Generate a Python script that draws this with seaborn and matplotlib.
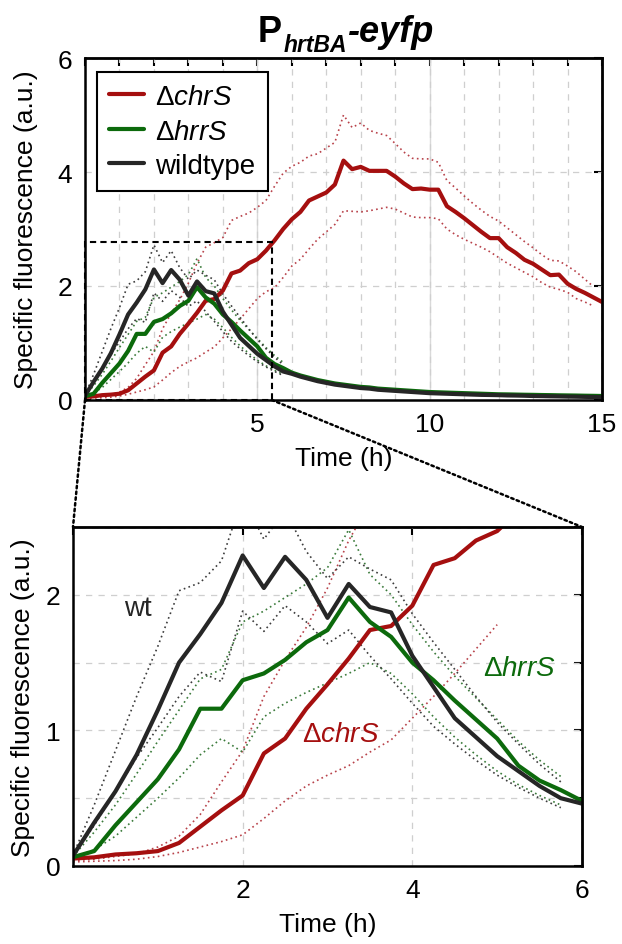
import matplotlib
matplotlib.use("Agg")
import matplotlib.pyplot as plt
from matplotlib.lines import Line2D
from matplotlib.patches import Rectangle, ConnectionPatch
import numpy as np
import pandas as pd
import seaborn as sns

sns.set_style("white")
plt.rcParams["font.family"] = ["Liberation Sans", "DejaVu Sans"]
plt.rcParams["mathtext.fontset"] = "custom"
plt.rcParams["mathtext.rm"] = "Liberation Sans"
plt.rcParams["mathtext.it"] = "Liberation Sans:italic"
plt.rcParams["mathtext.bf"] = "Liberation Sans:bold"
plt.rcParams["text.color"] = "black"
plt.rcParams["axes.labelcolor"] = "black"

# 측정 시간 (15분 간격)
time_h = np.arange(61) * 0.25

chrS = [0.055, 0.064, 0.085, 0.094, 0.11, 0.17, 0.29, 0.41, 0.52, 0.83, 0.94, 1.16,
        1.34, 1.53, 1.74, 1.77, 1.92, 2.22, 2.27, 2.40, 2.47, 2.62, 2.80, 3.00,
        3.17, 3.30, 3.50, 3.57, 3.64, 3.78, 4.20, 4.05, 4.09, 4.02, 4.02, 4.02,
        3.92, 3.80, 3.70, 3.71, 3.69, 3.69, 3.40, 3.30, 3.19, 3.07, 2.95, 2.84,
        2.84, 2.68, 2.58, 2.46, 2.39, 2.29, 2.19, 2.20, 2.04, 1.95, 1.88, 1.80, 1.72]
hrrS = [0.065, 0.11, 0.30, 0.47, 0.64, 0.86, 1.16, 1.16, 1.37, 1.42, 1.52, 1.65,
        1.74, 1.98, 1.80, 1.69, 1.50, 1.37, 1.22, 1.08, 0.94, 0.74, 0.63, 0.56,
        0.48, 0.43, 0.39, 0.35, 0.32, 0.29, 0.27, 0.25, 0.23, 0.22, 0.20, 0.19,
        0.18, 0.17, 0.16, 0.15, 0.14, 0.135, 0.13, 0.125, 0.12, 0.115, 0.11, 0.105,
        0.10, 0.098, 0.095, 0.092, 0.09, 0.087, 0.085, 0.082, 0.08, 0.078, 0.075, 0.073, 0.07]
wildtype = [0.076, 0.32, 0.55, 0.82, 1.15, 1.50, 1.71, 1.94, 2.29, 2.05, 2.28, 2.11,
            1.83, 2.08, 1.91, 1.87, 1.55, 1.32, 1.09, 0.95, 0.81, 0.70, 0.59, 0.50,
            0.46, 0.41, 0.37, 0.33, 0.30, 0.27, 0.25, 0.23, 0.21, 0.20, 0.18, 0.17,
            0.16, 0.15, 0.14, 0.13, 0.12, 0.115, 0.11, 0.105, 0.10, 0.095, 0.09, 0.088,
            0.085, 0.08, 0.078, 0.075, 0.07, 0.068, 0.065, 0.063, 0.06, 0.058, 0.055, 0.053, 0.05]

# 편차 범위 (점선)
chrS_upper = [0.04, 0.05, 0.07, 0.09, 0.14, 0.22, 0.38, 0.62, 0.85, 1.25, 1.52, 1.76,
              2.05, 2.40, 2.68, 2.76, 2.85, 3.15, 3.22, 3.28, 3.38, 3.50, 3.75, 3.98,
              4.10, 4.17, 4.28, 4.32, 4.42, 4.52, 5.00, 4.78, 4.86, 4.73, 4.68, 4.64,
              4.50, 4.35, 4.24, 4.23, 4.23, 4.17, 3.85, 3.72, 3.58, 3.45, 3.33, 3.22,
              3.14, 3.02, 2.90, 2.78, 2.67, 2.55, 2.45, 2.44, 2.35, 2.25, 2.12, 1.99]
chrS_lower = [0.03, 0.035, 0.04, 0.05, 0.07, 0.10, 0.14, 0.18, 0.23, 0.35, 0.48, 0.59,
              0.67, 0.74, 0.84, 0.93, 1.09, 1.25, 1.42, 1.60, 1.78, 1.90, 1.97, 2.15,
              2.35, 2.47, 2.65, 2.82, 2.95, 3.08, 3.32, 3.31, 3.30, 3.32, 3.35, 3.38,
              3.35, 3.28, 3.21, 3.20, 3.20, 3.18, 3.00, 2.90, 2.82, 2.75, 2.68, 2.60,
              2.50, 2.40, 2.32, 2.24, 2.16, 2.06, 1.98, 1.94, 1.89, 1.78, 1.72, 1.65]
hrrS_upper = [0.07, 0.25, 0.45, 0.68, 0.92, 1.15, 1.38, 1.45, 1.80, 1.88, 1.98, 2.08,
              2.20, 2.48, 2.15, 2.00, 1.78, 1.58, 1.40, 1.24, 1.08, 0.92, 0.78, 0.66]
hrrS_lower = [0.06, 0.12, 0.22, 0.36, 0.50, 0.65, 0.82, 0.94, 0.84, 1.10, 1.20, 1.28,
              1.35, 1.42, 1.50, 1.42, 1.27, 1.10, 0.95, 0.82, 0.70, 0.60, 0.52, 0.45]
wt_upper = [0.08, 0.45, 0.85, 1.25, 1.62, 2.03, 2.09, 2.25, 2.72, 2.41, 2.62, 2.32,
            2.12, 2.28, 2.19, 2.11, 1.86, 1.65, 1.45, 1.25, 1.06, 0.90, 0.75, 0.62]
wt_lower = [0.07, 0.30, 0.55, 0.80, 1.02, 1.25, 1.43, 1.36, 1.88, 1.73, 1.92, 1.80,
            1.64, 1.74, 1.55, 1.38, 1.20, 1.03, 0.90, 0.78, 0.67, 0.58, 0.50, 0.43]

strains = ["ΔchrS", "ΔhrrS", "wildtype"]
labels = [r"$\Delta\mathit{chrS}$", r"$\Delta\mathit{hrrS}$", "wildtype"]
colors = {"ΔchrS": "#a50f0f", "ΔhrrS": "#0c6a0c", "wildtype": "#262626"}
dot_colors = {"ΔchrS": "#b8424a", "ΔhrrS": "#3a7a3a", "wildtype": "#3c3c3c"}

df = pd.DataFrame({"time": time_h, "ΔchrS": chrS, "ΔhrrS": hrrS, "wildtype": wildtype})
df_long = df.melt(id_vars="time", var_name="strain", value_name="fluo")

bands = [
    ("ΔchrS", chrS_upper), ("ΔchrS", chrS_lower),
    ("ΔhrrS", hrrS_upper), ("ΔhrrS", hrrS_lower),
    ("wildtype", wt_upper), ("wildtype", wt_lower),
]

BOX_X, BOX_Y = 5.42, 2.78
FS = 19

fig = plt.figure(figsize=(6.22, 9.45), dpi=100)
ax_top = fig.add_axes([85 / 622, 1 - 401 / 945, 517 / 622, 342 / 945])
ax_bot = fig.add_axes([73 / 622, 1 - 867 / 945, 509 / 622, 339 / 945])


def draw_lines(ax, red_lower_end):
    for strain, vals in bands:
        t = time_h[: len(vals)]
        v = np.array(vals)
        if vals is chrS_lower:
            keep = t <= red_lower_end
            t, v = t[keep], v[keep]
        sns.lineplot(x=t, y=v, color=dot_colors[strain], lw=1.2,
                     linestyle=(0, (1, 2)), ax=ax, legend=False)
    sns.lineplot(data=df_long, x="time", y="fluo", hue="strain", hue_order=strains,
                 palette=colors, lw=3.0, ax=ax, legend=False)


def style_axes(ax, xticks, xlabels, yticks, ylabels, ylabelpad):
    ax.set_xticks(xticks, labels=xlabels)
    ax.set_yticks(yticks, labels=ylabels)
    ax.tick_params(direction="out", length=6, width=1.5, labelsize=FS,
                   colors="black", pad=3)
    for s in ax.spines.values():
        s.set_linewidth(1.8)
        s.set_color("black")
    top = ax.secondary_xaxis("top")
    top.set_xticks(xticks, labels=[""] * len(xticks))
    top.tick_params(direction="in", length=6, width=1.5, colors="black")
    top.spines["top"].set_linewidth(1.8)
    right = ax.secondary_yaxis("right")
    right.set_yticks(yticks, labels=[""] * len(yticks))
    right.tick_params(direction="in", length=6, width=1.5, colors="black")
    right.spines["right"].set_linewidth(1.8)
    ax.set_xlabel("Time (h)", fontsize=FS, labelpad=7)
    ax.set_ylabel("Specific fluorescence (a.u.)", fontsize=FS, labelpad=ylabelpad)


# 위쪽 그래프: 전체 시간
draw_lines(ax_top, 15)
ax_top.set_xlim(0, 15)
ax_top.set_ylim(0, 6)
xt = list(range(16))
style_axes(ax_top, xt, [str(x) if x in (5, 10, 15) else "" for x in xt],
           [0, 2, 4, 6], ["0", "2", "4", "6"], 14)
ax_top.grid(True, axis="both", color="#cfcfcf", lw=0.9, linestyle=(0, (5, 5)))
for xv in (5, 10):
    ax_top.axvline(xv, color="#d9d9d9", lw=1.0, zorder=0.5)
ax_top.set_axisbelow(True)

ax_top.add_patch(Rectangle((0, 0), BOX_X, BOX_Y, fill=False, edgecolor="black",
                           lw=1.5, linestyle=(0, (3, 2)), zorder=5, clip_on=False))

handles = [Line2D([0], [0], color=colors[s], lw=3.0) for s in strains]
leg = ax_top.legend(handles, labels, loc="upper left", bbox_to_anchor=(0.0226, 0.96),
                    borderaxespad=0, fontsize=20, frameon=True, fancybox=False,
                    edgecolor="black", framealpha=1, handlelength=1.25,
                    handletextpad=0.4, labelspacing=0.3, borderpad=0.45)
leg.get_frame().set_linewidth(1.5)

# 아래쪽 그래프: 확대
draw_lines(ax_bot, 5.0)
ax_bot.set_xlim(0, 6)
ax_bot.set_ylim(0, 2.5)
style_axes(ax_bot, [0, 2, 4, 6], ["", "2", "4", "6"],
           [0, 0.5, 1, 1.5, 2, 2.5], ["0", "", "1", "", "2", ""], 8)
ax_bot.grid(True, axis="both", color="#cfcfcf", lw=0.9, linestyle=(0, (5, 5)))
ax_bot.set_axisbelow(True)

ax_bot.text(0.76, 1.9, "wt", ha="center", va="center", fontsize=20, color="#262626")
ax_bot.text(3.15, 0.97, r"$\Delta\mathit{chrS}$", ha="center", va="center",
            fontsize=20, color=colors["ΔchrS"])
ax_bot.text(5.26, 1.46, r"$\Delta\mathit{hrrS}$", ha="center", va="center",
            fontsize=20, color=colors["ΔhrrS"])

# 확대 영역 연결선
for xa, xb in ((0, 0), (BOX_X, 6)):
    con = ConnectionPatch(xyA=(xa, 0), coordsA=ax_top.transData,
                          xyB=(xb, 2.5), coordsB=ax_bot.transData,
                          color="black", lw=1.8, linestyle=(0, (1, 1.3)))
    fig.add_artist(con)

# 제목: P_hrtBA-eyfp
t1 = fig.text(258 / 622, 1 - 42 / 945, "P", fontsize=26, fontweight="bold",
              ha="left", va="baseline")
t2 = ax_top.annotate("hrtBA", xy=(1, 1 - 52 / 945), xycoords=(t1, "figure fraction"),
                     xytext=(1, 0), textcoords="offset points", ha="left", va="baseline",
                     fontsize=16.5, fontweight="bold", fontstyle="italic",
                     annotation_clip=False)
ax_top.annotate("-eyfp", xy=(1, 1 - 42 / 945), xycoords=(t2, "figure fraction"),
                ha="left", va="baseline", fontsize=26, fontweight="bold",
                fontstyle="italic", annotation_clip=False)

fig.savefig("out.png", dpi=100)
